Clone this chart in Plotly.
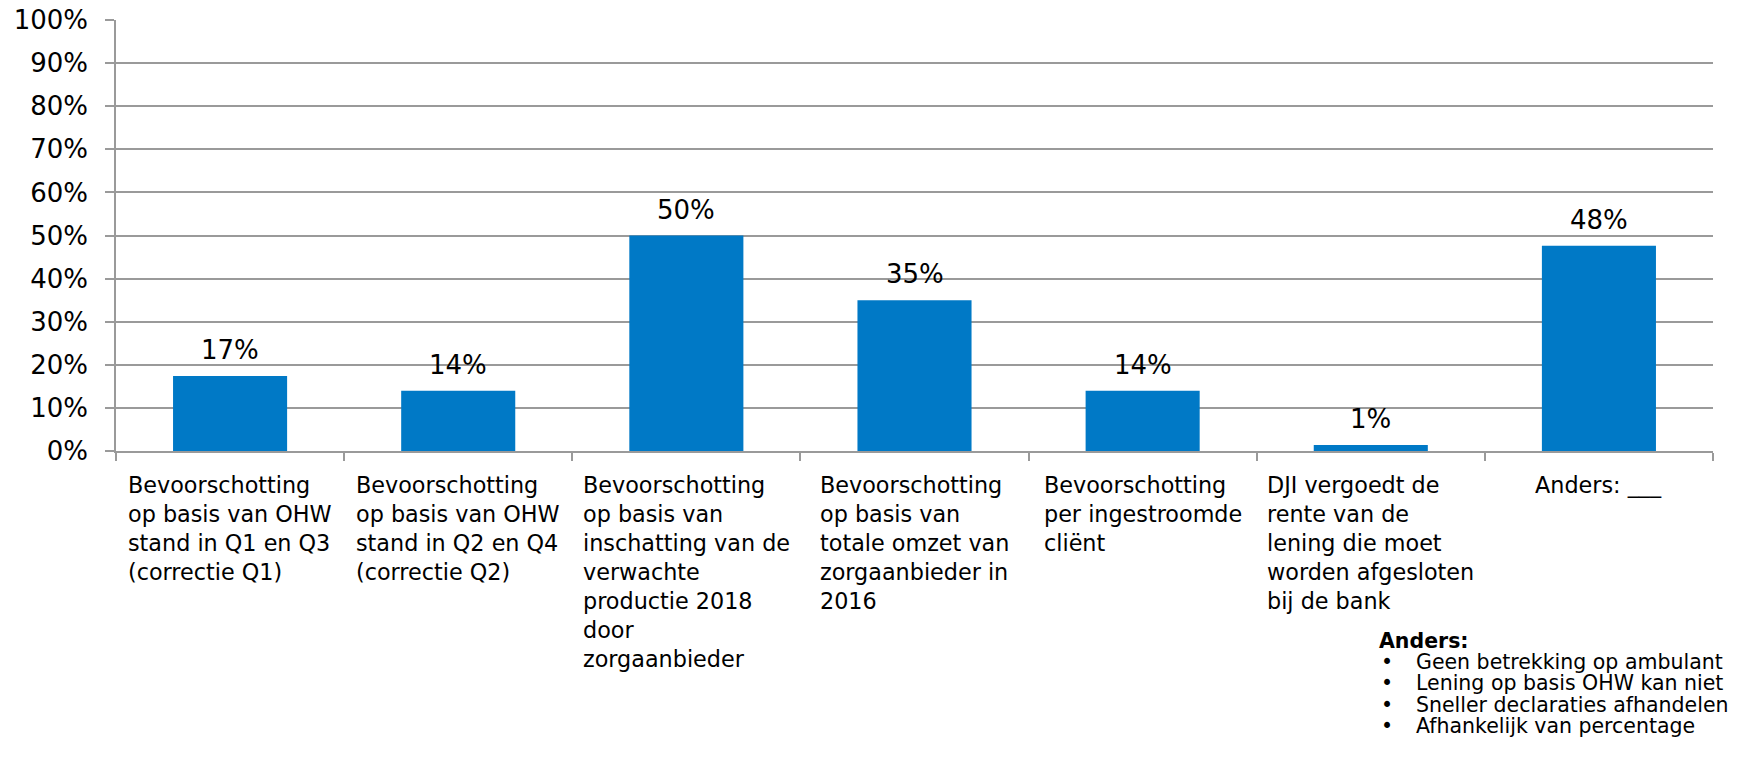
import plotly.graph_objects as go

categories = [
    "Bevoorschotting<br>op basis van OHW<br>stand in Q1 en Q3<br>(correctie Q1)",
    "Bevoorschotting<br>op basis van OHW<br>stand in Q2 en Q4<br>(correctie Q2)",
    "Bevoorschotting<br>op basis van<br>inschatting van de<br>verwachte<br>productie 2018<br>door<br>zorgaanbieder",
    "Bevoorschotting<br>op basis van<br>totale omzet van<br>zorgaanbieder in<br>2016",
    "Bevoorschotting<br>per ingestroomde<br>cliënt",
    "DJI vergoedt de<br>rente van de<br>lening die moet<br>worden afgesloten<br>bij de bank",
    "Anders: ___",
]
values = [0.174, 0.14, 0.50, 0.35, 0.14, 0.014, 0.476]
y_ticks = [0, 0.1, 0.2, 0.3, 0.4, 0.5, 0.6, 0.7, 0.8, 0.9, 1.0]
anders_title = "Anders:"
anders_items = [
    "Geen betrekking op ambulant",
    "Lening op basis OHW kan niet",
    "Sneller declaraties afhandelen",
    "Afhankelijk van percentage",
]

FONT = "DejaVu Sans"
GRID = "#9a9a9a"
W, H = 1745, 757
ML, MR, MT, MB = 116, 32, 20, 306
PW, PH = W - ML - MR, H - MT - MB


def px_x(x):
    return (x - ML) / PW


def px_y(y):
    return (H - MB - y) / PH


fig = go.Figure()
fig.add_trace(go.Bar(
    x=categories, y=values, width=0.5,
    marker=dict(color="#0079C6", line=dict(width=0)),
    hoverinfo="skip",
))

annotations = []
for c, v in zip(categories, values):
    annotations.append(dict(
        x=c, y=v, xref="x", yref="y", text=f"{round(v*100)}%",
        showarrow=False, yanchor="bottom", yshift=9,
        font=dict(family=FONT, size=26, color="#000"),
    ))
    annotations.append(dict(
        x=c, y=0, xref="x", yref="y", text=c, align="left",
        showarrow=False, xanchor="center", yanchor="top", yshift=-19,
        font=dict(family=FONT, size=22.3, color="#000"),
    ))

# "Anders" note, one line per annotation (tight line spacing as in the original)
note_font = dict(family=FONT, size=20.5, color="#000")
line_step = 21.2
first_center = 641
annotations.append(dict(
    x=px_x(1378), y=px_y(first_center), xref="paper", yref="paper",
    text=f"<b>{anders_title}</b>", showarrow=False, borderpad=0,
    xanchor="left", yanchor="middle", font=note_font,
))
for i, item in enumerate(anders_items, start=1):
    yc = px_y(first_center + i * line_step)
    annotations.append(dict(
        x=px_x(1380), y=yc, xref="paper", yref="paper", text="•",
        showarrow=False, borderpad=0, xanchor="left", yanchor="middle",
        font=note_font,
    ))
    annotations.append(dict(
        x=px_x(1415), y=yc, xref="paper", yref="paper", text=item,
        showarrow=False, borderpad=0, xanchor="left", yanchor="middle",
        font=note_font,
    ))

fig.update_layout(
    width=W, height=H,
    margin=dict(l=ML, r=MR, t=MT, b=MB, autoexpand=False),
    paper_bgcolor="white", plot_bgcolor="white",
    showlegend=False,
    annotations=annotations,
    font=dict(family=FONT, color="#000"),
)
fig.update_xaxes(
    type="category", showticklabels=False, tickson="boundaries",
    ticks="outside", ticklen=8, tickcolor=GRID, tickwidth=1.5,
    showline=True, linecolor=GRID, linewidth=1.5, showgrid=False,
    automargin=False,
)
fig.update_yaxes(
    range=[0, 1], tickvals=y_ticks, tickformat=".0%",
    ticks="outside", ticklen=9, tickcolor=GRID, tickwidth=1.5,
    showline=True, linecolor=GRID, linewidth=1.5,
    showgrid=True, gridcolor=GRID, gridwidth=1.5, zeroline=False,
    tickfont=dict(family=FONT, size=26, color="#000"),
    ticklabelstandoff=12, automargin=False,
)

fig.write_html(
    "out.html",
    config={"displayModeBar": False},
    post_script="document.body.style.margin='0';",
)
